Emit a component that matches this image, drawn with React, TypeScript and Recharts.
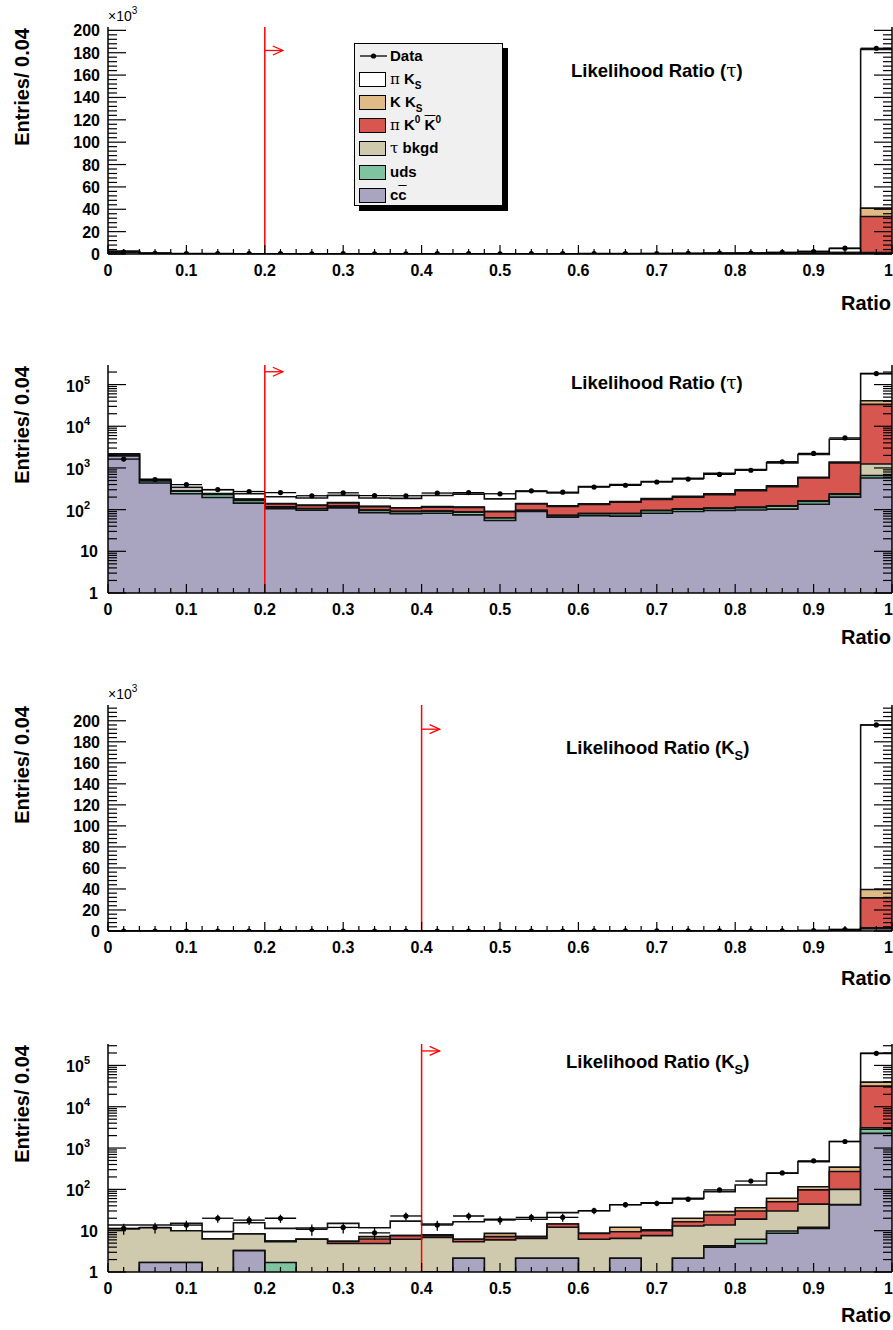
import React from 'react';
import { ComposedChart, Area, Scatter, ErrorBar, XAxis, YAxis, ReferenceLine } from 'recharts';

const FONT = '"Liberation Sans", Arial, Helvetica, sans-serif';
const GREEK = '"DejaVu Serif", "Liberation Serif", serif';

// bin edges of the "Ratio" histograms (width 0.04)
const BIN_EDGES = [0, 0.04, 0.08, 0.12, 0.16, 0.2, 0.24, 0.28, 0.32, 0.36, 0.4, 0.44, 0.48, 0.52,
  0.56, 0.6, 0.64, 0.68, 0.72, 0.76, 0.8, 0.84, 0.88, 0.92, 0.96, 1.0];

// stack order, bottom to top: cc, uds, tau bkgd, pi K0 K0bar, K Ks, pi Ks
const FILLS = ['#a9a5c1', '#7fc3a1', '#cfc9ad', '#d85650', '#e0bb88', '#ffffff'];

// Likelihood Ratio (tau)
const TAU_CC = [1950, 435, 240, 195, 143, 105, 97, 110, 85, 80, 82, 75, 55, 90, 66, 72, 70, 82, 90, 95, 98, 103, 135, 200, 575];
const TAU_UDS = [200, 55, 37, 35, 22, 10, 8, 10, 12, 10, 10, 12, 8, 5, 6, 8, 10, 12, 12, 12, 14, 18, 22, 30, 85];
const TAU_BKGD = [5, 3, 2, 2, 2, 2, 1, 2, 1, 1, 1, 1, 1, 1, 1, 1, 1, 2, 2, 2, 3, 3, 5, 10, 580];
const TAU_PIK0K0 = [5, 10, 5, 8, 10, 20, 20, 22, 20, 18, 22, 25, 25, 40, 46, 52, 70, 80, 95, 120, 170, 230, 410, 1080, 32260];
const TAU_KKS = [2, 3, 3, 2, 3, 3, 2, 3, 2, 2, 3, 3, 2, 3, 4, 5, 6, 8, 9, 10, 15, 18, 25, 60, 7500];
const TAU_PIKS = [5, 30, 55, 58, 60, 64, 62, 73, 70, 75, 100, 120, 90, 135, 128, 220, 243, 290, 360, 510, 610, 950, 1500, 3500, 142000];
const TAU_DATA = [1630, 527, 400, 303, 272, 257, 215, 253, 218, 215, 250, 257, 240, 283, 262, 347, 385, 460, 540, 700, 880, 1410, 2230, 5250, 184000];

// Likelihood Ratio (Ks)
const KS_CC = [0, 1.7, 1.7, 0, 3.3, 0, 0, 1, 1, 0, 1, 2.15, 1, 2.15, 2.15, 1, 2.15, 0, 2.15, 4, 4.9, 8.7, 11.4, 42, 2270];
const KS_UDS = [0, 0, 0, 0, 0, 1.7, 0, 0, 0, 0, 0, 0, 0, 0, 0, 0, 0, 0, 0, 0.3, 1.3, 1.1, 0.6, 1, 580];
const KS_BKGD = [11, 10.1, 8.3, 6.3, 5, 3.7, 6.2, 3.9, 3.9, 6.2, 5.9, 3.25, 5, 4.35, 9.95, 5.2, 4.35, 7.6, 10.85, 9.4, 12.8, 20.2, 32, 57, 250];
const KS_PIK0K0 = [0, 0, 0, 0, 0, 0.2, 0, 0.6, 1.4, 1.4, 0.7, 0.8, 1.2, 0.7, 2.4, 2.4, 2.9, 2.4, 3.5, 10.3, 11, 20, 53, 170, 28400];
const KS_KKS = [0, 0, 0, 0, 0, 0, 0, 0, 0.9, 0, 0.3, 0, 1.4, 0, 0, 0, 2.7, 0.5, 3.5, 5, 6, 11, 19, 75, 8000];
const KS_PIKS = [2.7, 1.9, 5, 3.2, 7.3, 5.8, 5.4, 9.5, 4.6, 9.4, 6.6, 10.3, 10.3, 11.7, 12.9, 21.9, 30.5, 37, 41, 59, 92, 184, 354, 1095, 156500];
const KS_DATA = [11.4, 12, 13.7, 20, 18, 20, 10.8, 12, 8.9, 22.7, 13.7, 22.7, 18.1, 21, 21, 30.5, 42.6, 46, 58, 97, 159, 250, 490, 1440, 196000];

const TAU_LAYERS = [TAU_CC, TAU_UDS, TAU_BKGD, TAU_PIK0K0, TAU_KKS, TAU_PIKS];
const KS_LAYERS = [KS_CC, KS_UDS, KS_BKGD, KS_PIK0K0, KS_KKS, KS_PIKS];

const X_MAJOR = [0, 0.1, 0.2, 0.3, 0.4, 0.5, 0.6, 0.7, 0.8, 0.9, 1];
const X_TICKS = Array.from({ length: 51 }, (_, i) => Number((i * 0.02).toFixed(2)));
const LIN_MAJOR = [0, 20, 40, 60, 80, 100, 120, 140, 160, 180, 200];
const LIN_TICKS = Array.from({ length: 54 }, (_, i) => i * 4);
const LOG_MAJOR = [1, 10, 100, 1000, 10000, 100000];
const LOG_TICKS = LOG_MAJOR.flatMap((d) => [1, 2, 3, 4, 5, 6, 7, 8, 9].map((m) => m * d));

const AXIS = { stroke: '#000', strokeWidth: 1.5 };

function histRows(layers: number[][], scale: number, floor: number) {
  return BIN_EDGES.map((x, i) => {
    const b = Math.min(i, layers[0].length - 1);
    const row: Record<string, number> = { x };
    let sum = 0;
    layers.forEach((arr, k) => {
      sum += arr[b];
      row['c' + k] = Math.max(sum / scale, floor);
    });
    return row;
  });
}

function dataPoints(data: number[], scale: number) {
  return data.map((n, i) => ({
    x: (BIN_EDGES[i] + BIN_EDGES[i + 1]) / 2,
    y: n / scale,
    ex: (BIN_EDGES[i + 1] - BIN_EDGES[i]) / 2,
    ey: Math.sqrt(n) / scale,
  }));
}

const isMajor = (v: number, majors: number[]) => majors.some((m) => Math.abs(m - v) < 1e-9);

function BottomTick(p: any) {
  const v = p.payload.value;
  const major = isMajor(v, X_MAJOR);
  // the last label sits on the page edge; keep it inside
  const last = v >= 1;
  return (
    <g>
      <line x1={p.x} y1={p.y} x2={p.x} y2={p.y - (major ? 9 : 5)} stroke="#000" strokeWidth={1.2} />
      {major && (
        <text x={last ? 893 : p.x} y={p.y + 22} textAnchor={last ? 'end' : 'middle'} fontFamily={FONT}
          fontWeight="bold" fontSize={16}>
          {String(v)}
        </text>
      )}
    </g>
  );
}

function TopTick(p: any) {
  const major = isMajor(p.payload.value, X_MAJOR);
  return <line x1={p.x} y1={p.y} x2={p.x} y2={p.y + (major ? 9 : 5)} stroke="#000" strokeWidth={1.2} />;
}

function LeftTick(p: any) {
  const v = p.payload.value;
  const major = isMajor(v, p.log ? LOG_MAJOR : LIN_MAJOR);
  let label: React.ReactNode = null;
  if (major) {
    if (p.log && v >= 100) {
      label = (
        <text x={p.x - 18} y={p.y + 7} textAnchor="end" fontFamily={FONT} fontWeight="bold" fontSize={16}>
          10<tspan dy={-8} fontSize={11}>{Math.round(Math.log10(v))}</tspan>
        </text>
      );
    } else {
      label = (
        <text x={p.x - (p.log ? 10 : 8)} y={p.y + 6} textAnchor="end" fontFamily={FONT} fontWeight="bold" fontSize={16}>
          {String(v)}
        </text>
      );
    }
  }
  return (
    <g>
      <line x1={p.x} y1={p.y} x2={p.x + (major ? 18 : 9)} y2={p.y} stroke="#000" strokeWidth={1.2} />
      {label}
    </g>
  );
}

function RightTick(p: any) {
  const major = isMajor(p.payload.value, p.log ? LOG_MAJOR : LIN_MAJOR);
  return <line x1={p.x} y1={p.y} x2={p.x - (major ? 18 : 9)} y2={p.y} stroke="#000" strokeWidth={1.2} />;
}

function ArrowShape(p: any) {
  const { x1, y1, x2 } = p;
  return (
    <g stroke="#ff0000" strokeWidth={1.3} fill="none">
      <line x1={x1} y1={y1} x2={x2} y2={y1} />
      <polyline points={`${x2 - 10},${y1 - 4.5} ${x2},${y1} ${x2 - 10},${y1 + 4.5}`} />
    </g>
  );
}

const DataDot = (p: any) => <circle cx={p.cx} cy={p.cy} r={2.6} fill="#000" />;

interface PanelProps {
  top: number;
  marginTop: number;
  marginBottom: number;
  layers: number[][];
  data: number[];
  log: boolean;
  yMax: number;
  cut: number;
  arrowY: number;
}

function Panel({ top, marginTop, marginBottom, layers, data, log, yMax, cut, arrowY }: PanelProps) {
  const scale = log ? 1 : 1000;
  const rows = histRows(layers, scale, log ? 0.1 : 0);
  const pts = dataPoints(data, scale);
  const yTicks = (log ? LOG_TICKS : LIN_TICKS).filter((t) => t <= yMax);
  const yDomain = [log ? 1 : 0, yMax];
  return (
    <div style={{ position: 'absolute', left: 0, top }}>
      <ComposedChart width={893} height={330} data={rows}
        margin={{ top: marginTop, right: 0, bottom: marginBottom, left: 0 }}>
        <XAxis xAxisId="b" dataKey="x" type="number" domain={[0, 1]} allowDataOverflow ticks={X_TICKS}
          interval={0} tickSize={0} tickMargin={0} tickLine={false} axisLine={AXIS} height={55} tick={<BottomTick />} />
        <XAxis xAxisId="t" orientation="top" dataKey="x" type="number" domain={[0, 1]} allowDataOverflow ticks={X_TICKS}
          interval={0} tickSize={0} tickMargin={0} tickLine={false} axisLine={AXIS} height={0} tick={<TopTick />} />
        <YAxis yAxisId="l" type="number" scale={log ? 'log' : 'linear'} domain={yDomain} allowDataOverflow ticks={yTicks}
          interval={0} tickSize={0} tickMargin={0} tickLine={false} axisLine={AXIS} width={108} tick={<LeftTick log={log} />} />
        <YAxis yAxisId="r" orientation="right" type="number" scale={log ? 'log' : 'linear'} domain={yDomain} allowDataOverflow
          ticks={yTicks} interval={0} tickSize={0} tickMargin={0} tickLine={false} axisLine={AXIS} width={1}
          tick={<RightTick log={log} />} />
        {[5, 4, 3, 2, 1, 0].map((k) => (
          <Area key={k} xAxisId="b" yAxisId="l" type="stepAfter" dataKey={'c' + k} fill={FILLS[k]} fillOpacity={1}
            stroke="#111" strokeWidth={1.6} dot={false} activeDot={false} isAnimationActive={false} />
        ))}
        <ReferenceLine xAxisId="b" yAxisId="l" x={cut} stroke="#ff0000" strokeWidth={1.5} />
        <ReferenceLine xAxisId="b" yAxisId="l" segment={[{ x: cut, y: arrowY }, { x: cut + 0.023, y: arrowY }]}
          stroke="#ff0000" shape={ArrowShape} />
        <Scatter xAxisId="b" yAxisId="l" data={pts} dataKey="y" shape={DataDot} isAnimationActive={false}>
          <ErrorBar dataKey="ex" direction="x" width={0} stroke="#000" strokeWidth={1.3} />
          <ErrorBar dataKey="ey" direction="y" width={0} stroke="#000" strokeWidth={1.3} />
        </Scatter>
      </ComposedChart>
    </div>
  );
}

const PLOT_TOPS = [27, 365, 705, 1044];
const RATIO_BASELINES = [310, 644, 985, 1322];

function Greek({ children }: { children: React.ReactNode }) {
  return <span style={{ fontFamily: GREEK, fontWeight: 'normal' }}>{children}</span>;
}
const Sub = ({ children }: { children: React.ReactNode }) => (
  <span style={{ fontSize: 10, position: 'relative', top: 5 }}>{children}</span>
);
const Sup = ({ children }: { children: React.ReactNode }) => (
  <span style={{ fontSize: 10, position: 'relative', top: -7 }}>{children}</span>
);
const Bar = ({ children }: { children: React.ReactNode }) => (
  <span style={{ textDecoration: 'overline' }}>{children}</span>
);

function LegendBox() {
  const entries: { fill: string | null; label: React.ReactNode }[] = [
    { fill: null, label: 'Data' },
    { fill: FILLS[5], label: <><Greek>π</Greek> K<Sub>S</Sub></> },
    { fill: FILLS[4], label: <>K K<Sub>S</Sub></> },
    { fill: FILLS[3], label: <><Greek>π</Greek> K<Sup>0</Sup> <Bar>K</Bar><Sup>0</Sup></> },
    { fill: FILLS[2], label: <><Greek>τ</Greek> bkgd</> },
    { fill: FILLS[1], label: 'uds' },
    { fill: FILLS[0], label: <>c<Bar>c</Bar></> },
  ];
  return (
    <div style={{
      position: 'absolute', left: 354, top: 43, width: 147, height: 161, background: '#f0f0f0',
      border: '1px solid #000', boxShadow: '5px 5px 0 #000', fontFamily: FONT, fontWeight: 'bold', fontSize: 15,
    }}>
      {entries.map((e, i) => (
        <div key={i} style={{ position: 'absolute', left: 0, top: 12 + 23.1 * i - 9, height: 18, width: 147 }}>
          {e.fill === null ? (
            <svg width={30} height={18} style={{ position: 'absolute', left: 4, top: 0 }}>
              <line x1={1} y1={9} x2={28} y2={9} stroke="#000" strokeWidth={1.3} />
              <circle cx={14.5} cy={9} r={2.6} fill="#000" />
            </svg>
          ) : (
            <div style={{ position: 'absolute', left: 4, top: 2, width: 25, height: 13, background: e.fill, border: '1px solid #000' }} />
          )}
          <div style={{ position: 'absolute', left: 35, top: 0, lineHeight: '18px', whiteSpace: 'nowrap' }}>{e.label}</div>
        </div>
      ))}
    </div>
  );
}

function Annotations() {
  const txt = { fontFamily: FONT, fontWeight: 'bold' as const };
  return (
    <svg width={893} height={1330} style={{ position: 'absolute', left: 0, top: 0, pointerEvents: 'none' }}>
      {PLOT_TOPS.map((t, i) => (
        <g key={i}>
          <text transform={`translate(29, ${t + 1}) rotate(-90)`} textAnchor="end" fontSize={20} {...txt}>Entries/ 0.04</text>
          <text x={891} y={RATIO_BASELINES[i]} textAnchor="end" fontSize={20} {...txt}>Ratio</text>
        </g>
      ))}
      {[21, 699].map((y) => (
        <text key={y} x={108} y={y} fontFamily={FONT} fontSize={14}>
          ×10<tspan dy={-7} fontSize={10}>3</tspan>
        </text>
      ))}
      {[77, 389].map((y) => (
        <text key={y} x={571} y={y} fontSize={18.5} {...txt}>
          Likelihood Ratio (<tspan fontFamily={GREEK} fontWeight="normal">τ</tspan>)
        </text>
      ))}
      {[754, 1068].map((y) => (
        <text key={y} x={566} y={y} fontSize={18.5} {...txt}>
          Likelihood Ratio (K<tspan dy={6} fontSize={13}>S</tspan><tspan dy={-6}>)</tspan>
        </text>
      ))}
    </svg>
  );
}

export default function App() {
  return (
    <div style={{ position: 'absolute', left: 0, top: 0, width: 893, height: 1330, background: '#fff' }}>
      <Panel top={0} marginTop={27} marginBottom={21} layers={TAU_LAYERS} data={TAU_DATA} log={false}
        yMax={203} cut={0.2} arrowY={182} />
      <Panel top={335} marginTop={30} marginBottom={17} layers={TAU_LAYERS} data={TAU_DATA} log
        yMax={295000} cut={0.2} arrowY={203000} />
      <Panel top={670} marginTop={35} marginBottom={14} layers={KS_LAYERS} data={KS_DATA} log={false}
        yMax={215} cut={0.4} arrowY={192} />
      <Panel top={1000} marginTop={44} marginBottom={3} layers={KS_LAYERS} data={KS_DATA} log
        yMax={330000} cut={0.4} arrowY={224000} />
      <Annotations />
      <LegendBox />
    </div>
  );
}
